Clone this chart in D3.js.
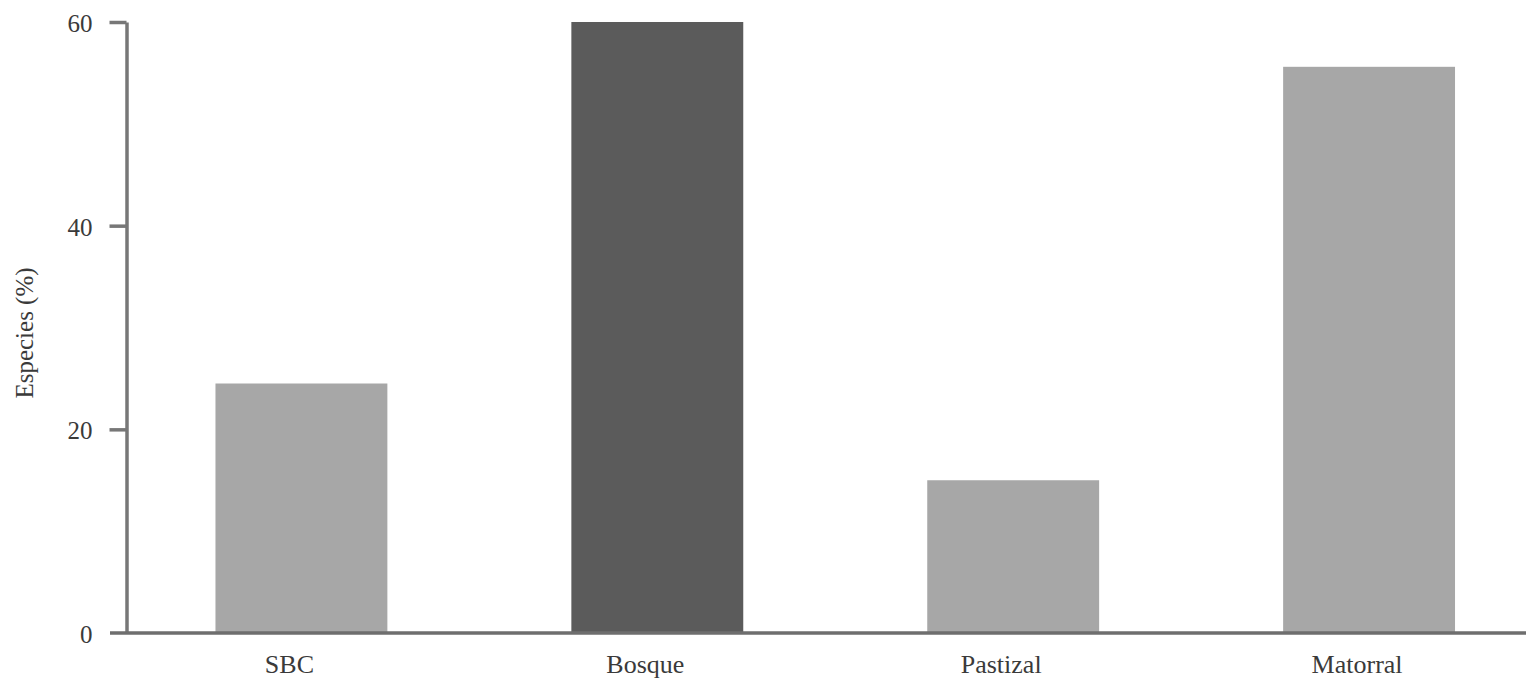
<!DOCTYPE html>
<html>
<head>
<meta charset="utf-8">
<script src="https://cdn.jsdelivr.net/npm/d3@7"></script>
<style>
  html, body { margin: 0; padding: 0; background: #fff; }
  svg { display: block; }
  text { font-family: "Liberation Serif", "Times New Roman", serif; }
</style>
</head>
<body>
<svg id="chart" width="1526" height="682"></svg>
<script>
// ---- data ----
const categories = ["SBC", "Bosque", "Pastizal", "Matorral"];
const values = [24.5, 60, 15.0, 55.6];
const yTicks = [0, 20, 40, 60];
const yTitle = "Especies (%)";

// ---- layout / style ----
const W = 1526, H = 682;
const axisX = 126.5, yTop = 22, yBottom = 633;
const lightGray = "#a7a7a7", darkGray = "#5b5b5b", axisColor = "#777777", textColor = "#3a3a3a";

const svg = d3.select("#chart");

const x = d3.scaleBand()
  .domain(categories)
  .range([axisX, 1544])
  .paddingInner(0.517)
  .paddingOuter(0.25);

const y = d3.scaleLinear().domain([0, 60]).range([yBottom, yTop]);

const color = d3.scaleOrdinal()
  .domain(categories)
  .range([lightGray, darkGray, lightGray, lightGray]);

// bars
svg.append("g")
  .selectAll("rect")
  .data(categories.map((c, i) => ({ c, v: values[i] })))
  .join("rect")
  .attr("x", d => x(d.c))
  .attr("width", x.bandwidth())
  .attr("y", d => y(d.v))
  .attr("height", d => y(0) - y(d.v))
  .attr("fill", d => color(d.c));

// y axis
const yAxis = svg.append("g")
  .attr("transform", `translate(${axisX},0)`)
  .call(d3.axisLeft(y).tickValues(yTicks).tickSize(17).tickSizeOuter(0).tickPadding(17));
yAxis.select(".domain").attr("stroke", axisColor).attr("stroke-width", 3.5);
yAxis.selectAll(".tick line").attr("stroke", axisColor).attr("stroke-width", 3.5);
yAxis.selectAll(".tick text")
  .attr("fill", textColor)
  .attr("font-size", 25)
  .attr("font-family", "Liberation Serif, serif")
  .attr("dy", "0.38em");
yAxis.selectAll(".tick").filter(d => d === 0).select("line").remove();

// x axis baseline
svg.append("line")
  .attr("x1", 110).attr("x2", W)
  .attr("y1", y(0)).attr("y2", y(0))
  .attr("stroke", "#6e6e6e").attr("stroke-width", 3.5);

// x axis labels
const xAxis = svg.append("g")
  .attr("transform", `translate(-12,${y(0)})`)
  .call(d3.axisBottom(x).tickSize(0).tickPadding(22));
xAxis.select(".domain").remove();
xAxis.selectAll(".tick text")
  .attr("fill", textColor)
  .attr("font-size", 26)
  .attr("font-family", "Liberation Serif, serif");

// y title
svg.append("text")
  .attr("transform", `translate(33,333) rotate(-90)`)
  .attr("text-anchor", "middle")
  .attr("fill", textColor)
  .attr("font-size", 25)
  .text(yTitle);
</script>
</body>
</html>
